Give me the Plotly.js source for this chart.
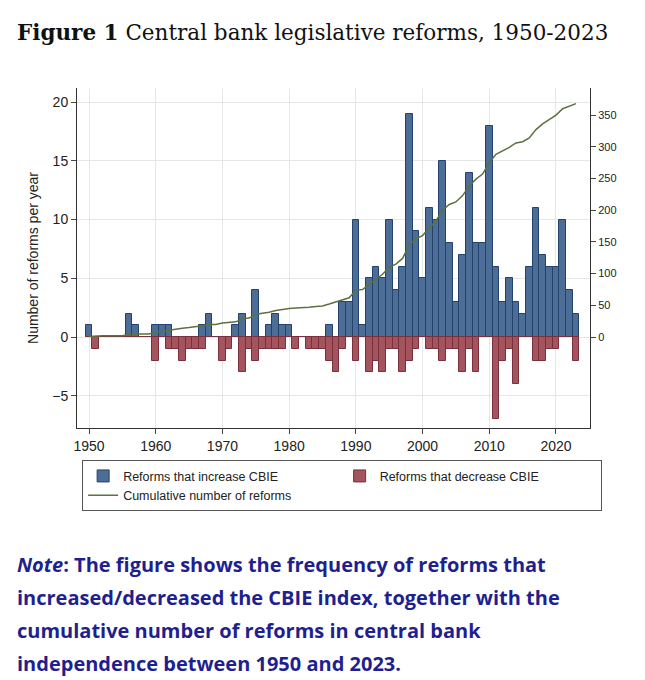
<!DOCTYPE html>
<html>
<head>
<meta charset="utf-8">
<script src="https://cdn.plot.ly/plotly-3.0.1.min.js"></script>
<style>body{margin:0;background:#fff}</style>
</head>
<body>
<div id="chart" style="width:645px;height:680px"></div>
<script>
// years 1950-2023
const years = [];
for (let y = 1950; y <= 2023; y++) years.push(y);

// reforms that increase CBIE, per year 1950..2023
const increase = [
  1,0,0,0,0,0,2,1,0,0,   // 1950s
  1,1,1,0,0,0,0,1,2,0,   // 1960s
  0,0,1,2,0,4,0,1,2,1,   // 1970s
  1,0,0,0,0,0,1,0,3,3,   // 1980s
  10,1,5,6,5,10,4,6,19,9, // 1990s
  5,11,10,15,8,3,7,14,8,8, // 2000s
  18,6,3,5,3,2,6,11,7,6, // 2010s
  6,10,4,2
];
// reforms that decrease CBIE (plotted negative)
const decrease = [
  0,-1,0,0,0,0,0,0,0,0,
  -2,0,-1,-1,-2,-1,-1,-1,0,0,
  -2,-1,0,-3,-1,-2,-1,-1,-1,-1,
  0,-1,0,-1,-1,-1,-2,-3,-1,0,
  -2,0,-3,-2,-3,-1,-1,-3,-2,-1,
  0,-1,-1,-2,-1,-1,-3,-1,-3,0,
  0,-7,-2,-1,-4,0,0,-2,-2,-1,
  -1,0,0,-2
];
// cumulative number of reforms
const cumulative = [];
let total = 0;
years.forEach((y, i) => { total += increase[i] - decrease[i]; cumulative.push(total); });

const noteLines = [
  '<b><i>Note</i>: The figure shows the frequency of reforms that</b>',
  '<b>increased/decreased the CBIE index, together with the</b>',
  '<b>cumulative number of reforms in central bank</b>',
  '<b>independence between 1950 and 2023.</b>'
];

const leftRange = [-7.74, 21.2];
const k = 18.52;

const data = [
  { x: years, y: increase, type: 'bar', name: 'Reforms that increase CBIE',
    marker: { color: '#4b6d96', line: { color: '#23436e', width: 1 } } },
  { x: years, y: decrease, type: 'bar', name: 'Reforms that decrease CBIE',
    marker: { color: '#a3545d', line: { color: '#7a2f3c', width: 1 } } },
  { x: years, y: cumulative, type: 'scatter', mode: 'lines', yaxis: 'y2',
    name: 'Cumulative number of reforms', line: { color: '#5e7040', width: 1.5 } }
];

const annotations = [
  { xref: 'paper', yref: 'paper', x: -0.12, y: 1.205, xanchor: 'left', showarrow: false,
    text: '<b>Figure 1</b> Central bank legislative reforms, 1950-2023',
    font: { family: 'DejaVu Serif, Liberation Serif', size: 21.5, color: '#111' } }
];
noteLines.forEach((t, i) => annotations.push({
  xref: 'paper', yref: 'paper', x: -0.12, y: -0.355 - i * 0.0975, xanchor: 'left',
  yanchor: 'top', showarrow: false, align: 'left', text: t,
  font: { family: 'Open Sans', size: 20, color: '#1f1f8f' }
}));

const layout = {
  width: 645, height: 680,
  margin: { l: 77, r: 55, t: 88, b: 252 },
  paper_bgcolor: '#fff', plot_bgcolor: '#fff',
  barmode: 'overlay', bargap: 0,
  font: { family: 'Liberation Sans, Arial', size: 13, color: '#222' },
  showlegend: true,
  legend: { orientation: 'h', x: 0.01, y: -0.095, yanchor: 'top', xanchor: 'left',
    entrywidth: 0.5, entrywidthmode: 'fraction', bordercolor: '#555', borderwidth: 1,
    font: { size: 12.5 }, traceorder: 'normal' },
  xaxis: { range: [1948.2, 2025.1], tickvals: [1950,1960,1970,1980,1990,2000,2010,2020],
    showgrid: true, gridcolor: '#e6e6e6', zeroline: false, ticks: 'outside', ticklen: 5,
    showline: true, linecolor: '#333', mirror: false, tickfont: { size: 14 } },
  yaxis: { range: leftRange, tickvals: [-5,0,5,10,15,20], showgrid: true, gridcolor: '#e6e6e6',
    zeroline: false, ticks: 'outside', ticklen: 5, showline: true, linecolor: '#333',
    tickfont: { size: 14 },
    title: { text: 'Number of reforms per year', font: { size: 14 }, standoff: 10 } },
  yaxis2: { overlaying: 'y', side: 'right', range: [leftRange[0]*k, leftRange[1]*k],
    tickvals: [0,50,100,150,200,250,300,350], showgrid: false, zeroline: false,
    ticks: 'outside', ticklen: 5, showline: true, linecolor: '#333', tickfont: { size: 11 } },
  annotations: annotations
};

Plotly.newPlot('chart', data, layout, { displayModeBar: false });
</script>
</body>
</html>
